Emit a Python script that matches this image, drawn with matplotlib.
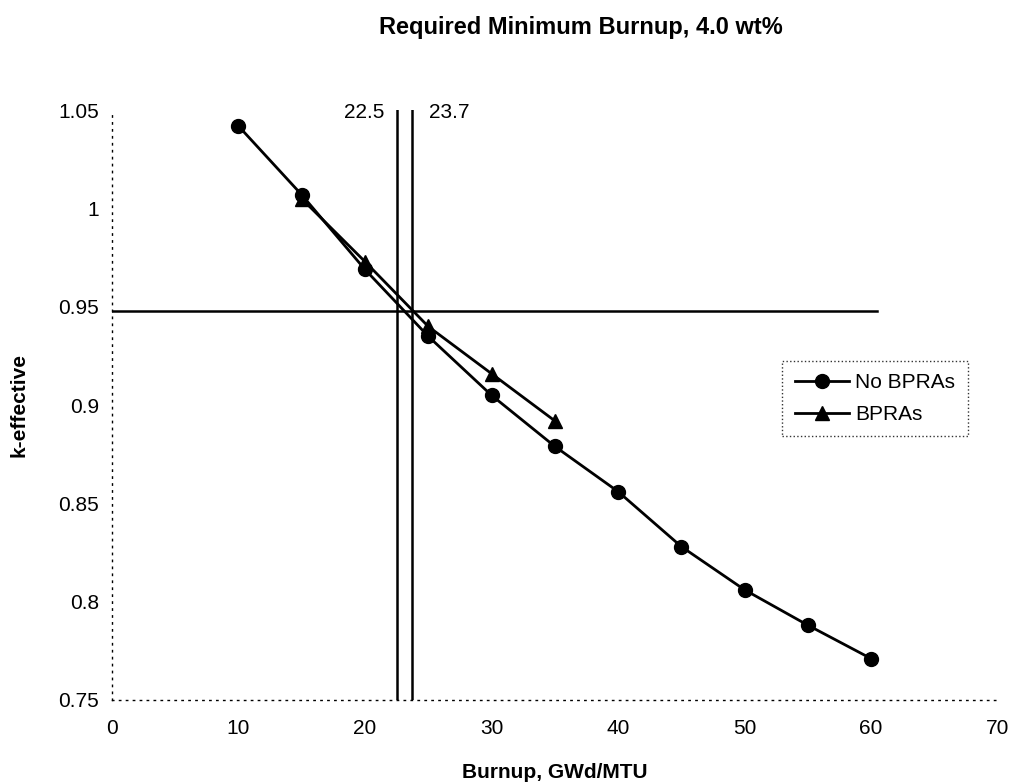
import numpy as np
import matplotlib
matplotlib.use('Agg')
import matplotlib.pyplot as plt

plt.rcParams['font.family'] = ['Liberation Sans', 'DejaVu Sans']

burnup_no = [10, 15, 20, 25, 30, 35, 40, 45, 50, 55, 60]
keff_no = [1.042, 1.007, 0.969, 0.935, 0.905, 0.879, 0.856, 0.828, 0.806, 0.788, 0.771]

burnup_bp = [15, 20, 25, 30, 35]
keff_bp = [1.005, 0.973, 0.940, 0.916, 0.892]

k_limit = 0.948
k_limit_end = 60.5
burnup_req = [22.5, 23.7]

fig = plt.figure(figsize=(10.17, 7.82), dpi=100)
ax = fig.add_axes([0.110, 0.105, 0.871, 0.754])

ax.plot(burnup_no, keff_no, color='black', lw=2.0, marker='o', ms=10, label='No BPRAs')
ax.plot(burnup_bp, keff_bp, color='black', lw=2.0, marker='^', ms=10, label='BPRAs')

ax.plot([0, k_limit_end], [k_limit, k_limit], color='black', lw=1.8)
for b in burnup_req:
    ax.plot([b, b], [0.75, 1.05], color='black', lw=1.8)
ax.text(burnup_req[0] - 1.0, 1.049, '22.5', ha='right', va='center', fontsize=15)
ax.text(burnup_req[1] + 1.4, 1.049, '23.7', ha='left', va='center', fontsize=15)

ax.set_xlim(0, 70)
ax.set_ylim(0.75, 1.05)
ax.set_xticks(np.arange(0, 71, 10))
ax.set_yticks([0.75, 0.8, 0.85, 0.9, 0.95, 1.0, 1.05])
ax.set_yticklabels(['0.75', '0.8', '0.85', '0.9', '0.95', '1', '1.05'])
ax.tick_params(axis='both', labelsize=15, length=0)
ax.tick_params(axis='x', pad=14)
ax.tick_params(axis='y', pad=9)

for s in ['top', 'right']:
    ax.spines[s].set_visible(False)
for s in ['left', 'bottom']:
    ax.spines[s].set_linestyle((0, (1, 4)))
    ax.spines[s].set_linewidth(1.0)

ax.set_xlabel('Burnup, GWd/MTU', fontsize=15, fontweight='bold', labelpad=18)
ax.set_ylabel('k-effective', fontsize=15, fontweight='bold', labelpad=22)
fig.text(0.571, 0.965, 'Required Minimum Burnup, 4.0 wt%', ha='center', va='center',
         fontsize=17, fontweight='bold')

leg = ax.legend(loc='upper left', bbox_to_anchor=(0.757, 0.575), fontsize=15,
                frameon=True, fancybox=False, handlelength=2.6, borderpad=0.6,
                labelspacing=0.6, handletextpad=0.3, borderaxespad=0)
leg.get_frame().set_edgecolor('black')
leg.get_frame().set_linestyle(':')
leg.get_frame().set_linewidth(1.0)

fig.savefig('out.png', dpi=100)
plt.close(fig)
